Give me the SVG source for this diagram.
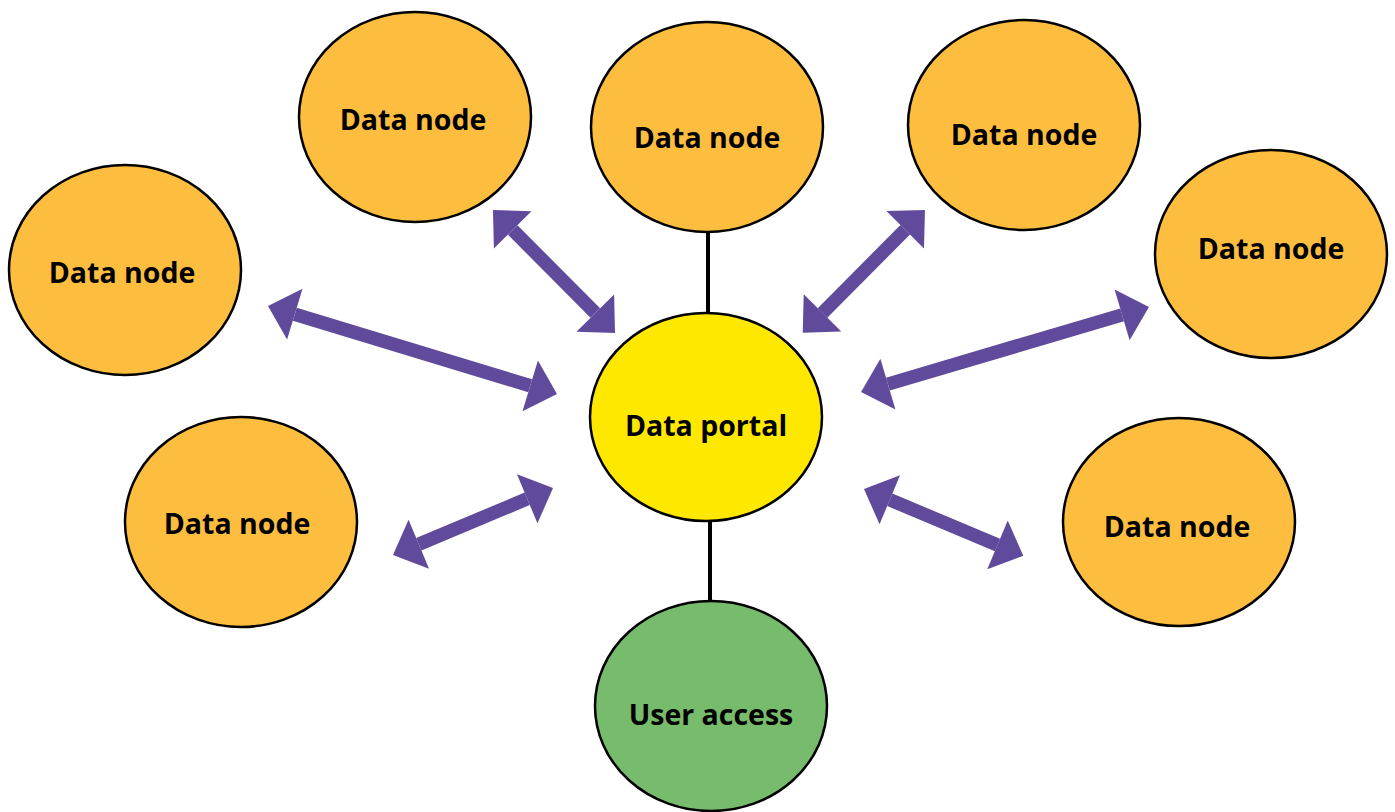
<svg xmlns="http://www.w3.org/2000/svg" width="1395" height="812" viewBox="0 0 1395 812">
<style>
.n ellipse{stroke:#000;stroke-width:2.5}
.dn ellipse{fill:#FDBE3F}
text{font-family:"Open Sans","Liberation Sans",sans-serif;font-weight:bold;font-size:28.5px;text-anchor:middle;fill:#000}
.ar line{stroke:#604A9B;stroke-width:13.5;marker-start:url(#ah);marker-end:url(#ah)}
.bl line{stroke:#000;stroke-width:4}
</style>
<defs>
<marker id="ah" markerUnits="userSpaceOnUse" markerWidth="60" markerHeight="60" viewBox="0 -30 30 60" refX="0" refY="0" orient="auto-start-reverse" overflow="visible">
<path d="M0,-26.5 L28,0 L0,26.5 z" fill="#604A9B"/>
</marker>
</defs>
<rect width="1395" height="812" fill="#fff"/>
<g id="connectors">
<g class="bl">
<line x1="708" y1="232" x2="708" y2="313"/>
<line x1="710" y1="520" x2="710" y2="602"/>
</g>
<g class="ar">
<line x1="512.7" y1="229.9" x2="595.3" y2="313.1"/>
<line x1="905.2" y1="229.8" x2="822.5" y2="312.9"/>
<line x1="294.8" y1="314.2" x2="530.2" y2="385.8"/>
<line x1="887.9" y1="384.1" x2="1122.1" y2="314.9"/>
<line x1="418.8" y1="544.2" x2="527.2" y2="498.8"/>
<line x1="889.8" y1="499.8" x2="997.5" y2="544.9"/>
</g>
</g>
<g id="node-top-left" class="n dn"><ellipse cx="415" cy="117" rx="116" ry="105"/><text x="413" y="130">Data node</text></g>
<g id="node-top" class="n dn"><ellipse cx="707" cy="127" rx="116" ry="105"/><text x="707" y="148">Data node</text></g>
<g id="node-top-right" class="n dn"><ellipse cx="1024" cy="125" rx="116" ry="105"/><text x="1024" y="145">Data node</text></g>
<g id="node-left" class="n dn"><ellipse cx="125" cy="270" rx="116" ry="105"/><text x="122" y="283">Data node</text></g>
<g id="node-right" class="n dn"><ellipse cx="1271" cy="254" rx="116" ry="104"/><text x="1271" y="259">Data node</text></g>
<g id="node-bottom-left" class="n dn"><ellipse cx="241" cy="522" rx="116" ry="105"/><text x="237" y="534">Data node</text></g>
<g id="node-bottom-right" class="n dn"><ellipse cx="1179" cy="522" rx="116" ry="104"/><text x="1177" y="537">Data node</text></g>
<g id="portal" class="n"><ellipse cx="706" cy="417" rx="116" ry="104" fill="#FFE800"/><text x="706" y="436">Data portal</text></g>
<g id="user-access" class="n"><ellipse cx="711" cy="706" rx="116" ry="105" fill="#77BC6C"/><text x="711" y="725">User access</text></g>
</svg>
